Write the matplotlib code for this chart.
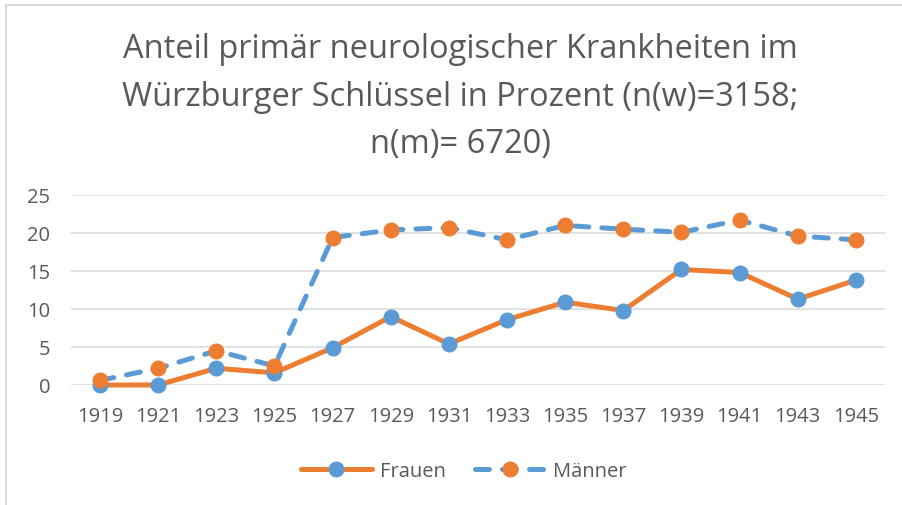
import matplotlib
matplotlib.use("Agg")
import matplotlib.pyplot as plt
from matplotlib.patches import Rectangle

years = ["1919", "1921", "1923", "1925", "1927", "1929", "1931", "1933",
         "1935", "1937", "1939", "1941", "1943", "1945"]
frauen = [0.0, 0.0, 2.2, 1.6, 4.9, 9.0, 5.4, 8.6, 10.9, 9.8, 15.2, 14.8, 11.3, 13.8]
maenner = [0.6, 2.2, 4.5, 2.5, 19.4, 20.4, 20.7, 19.1, 21.0, 20.5, 20.1, 21.7, 19.6, 19.1]
yticks = [0, 5, 10, 15, 20, 25]
title = "Anteil primär neurologischer Krankheiten im\nWürzburger Schlüssel in Prozent (n(w)=3158;\nn(m)= 6720)"

ORANGE = "#ED7D31"
BLUE = "#5B9BD5"
GRAY = "#595959"

plt.rcParams["font.family"] = ["Open Sans", "DejaVu Sans"]

W, H = 903, 506
fig = plt.figure(figsize=(W / 100, H / 100), dpi=100)

# chart border
fig.patches.append(Rectangle((6 / W, -0.1), 1.2, (H - 6) / H + 0.1, transform=fig.transFigure,
                             fill=False, edgecolor="#D9D9D9", lw=1.5))

ax = fig.add_axes([71 / W, (H - 386) / H, (885 - 71) / W, (386 - 196) / H])
x = list(range(len(years)))

ax.plot(x, frauen, color=ORANGE, lw=3.6, marker="o", markersize=10.5,
        markerfacecolor=BLUE, markeredgecolor=BLUE, clip_on=False, zorder=3,
        solid_capstyle="round", solid_joinstyle="round", label="Frauen")
ax.plot(x, maenner, color=BLUE, lw=3.6, linestyle=(0, (2.8, 2.6)), marker="o", markersize=10.5,
        markerfacecolor=ORANGE, markeredgecolor=ORANGE, clip_on=False, zorder=4,
        dash_capstyle="round", label="Männer")

ax.set_xlim(-0.5, len(years) - 0.5)
ax.set_ylim(0, 25)
ax.set_xticks(x)
ax.set_xticklabels(years)
ax.set_yticks(yticks)
ax.set_yticklabels([str(v) for v in yticks])
ax.tick_params(axis="both", length=0, labelsize=14.5, colors=GRAY)
ax.tick_params(axis="x", pad=15)
ax.tick_params(axis="y", pad=15)
for s in ax.spines.values():
    s.set_visible(False)
ax.yaxis.grid(True, color="#D9D9D9", lw=1.1)
ax.set_axisbelow(True)

fig.text(460 / W, 1 - 97 / H, title, ha="center", va="center", fontsize=23.5,
         color=GRAY, linespacing=1.58)

leg = fig.legend(loc="center", bbox_to_anchor=(464 / W, 1 - 472 / H), ncol=2, frameon=False,
                 fontsize=14.5, handlelength=3.5, columnspacing=1.45, handletextpad=0.4)
for t in leg.get_texts():
    t.set_color(GRAY)

fig.savefig("out.png", dpi=100)
